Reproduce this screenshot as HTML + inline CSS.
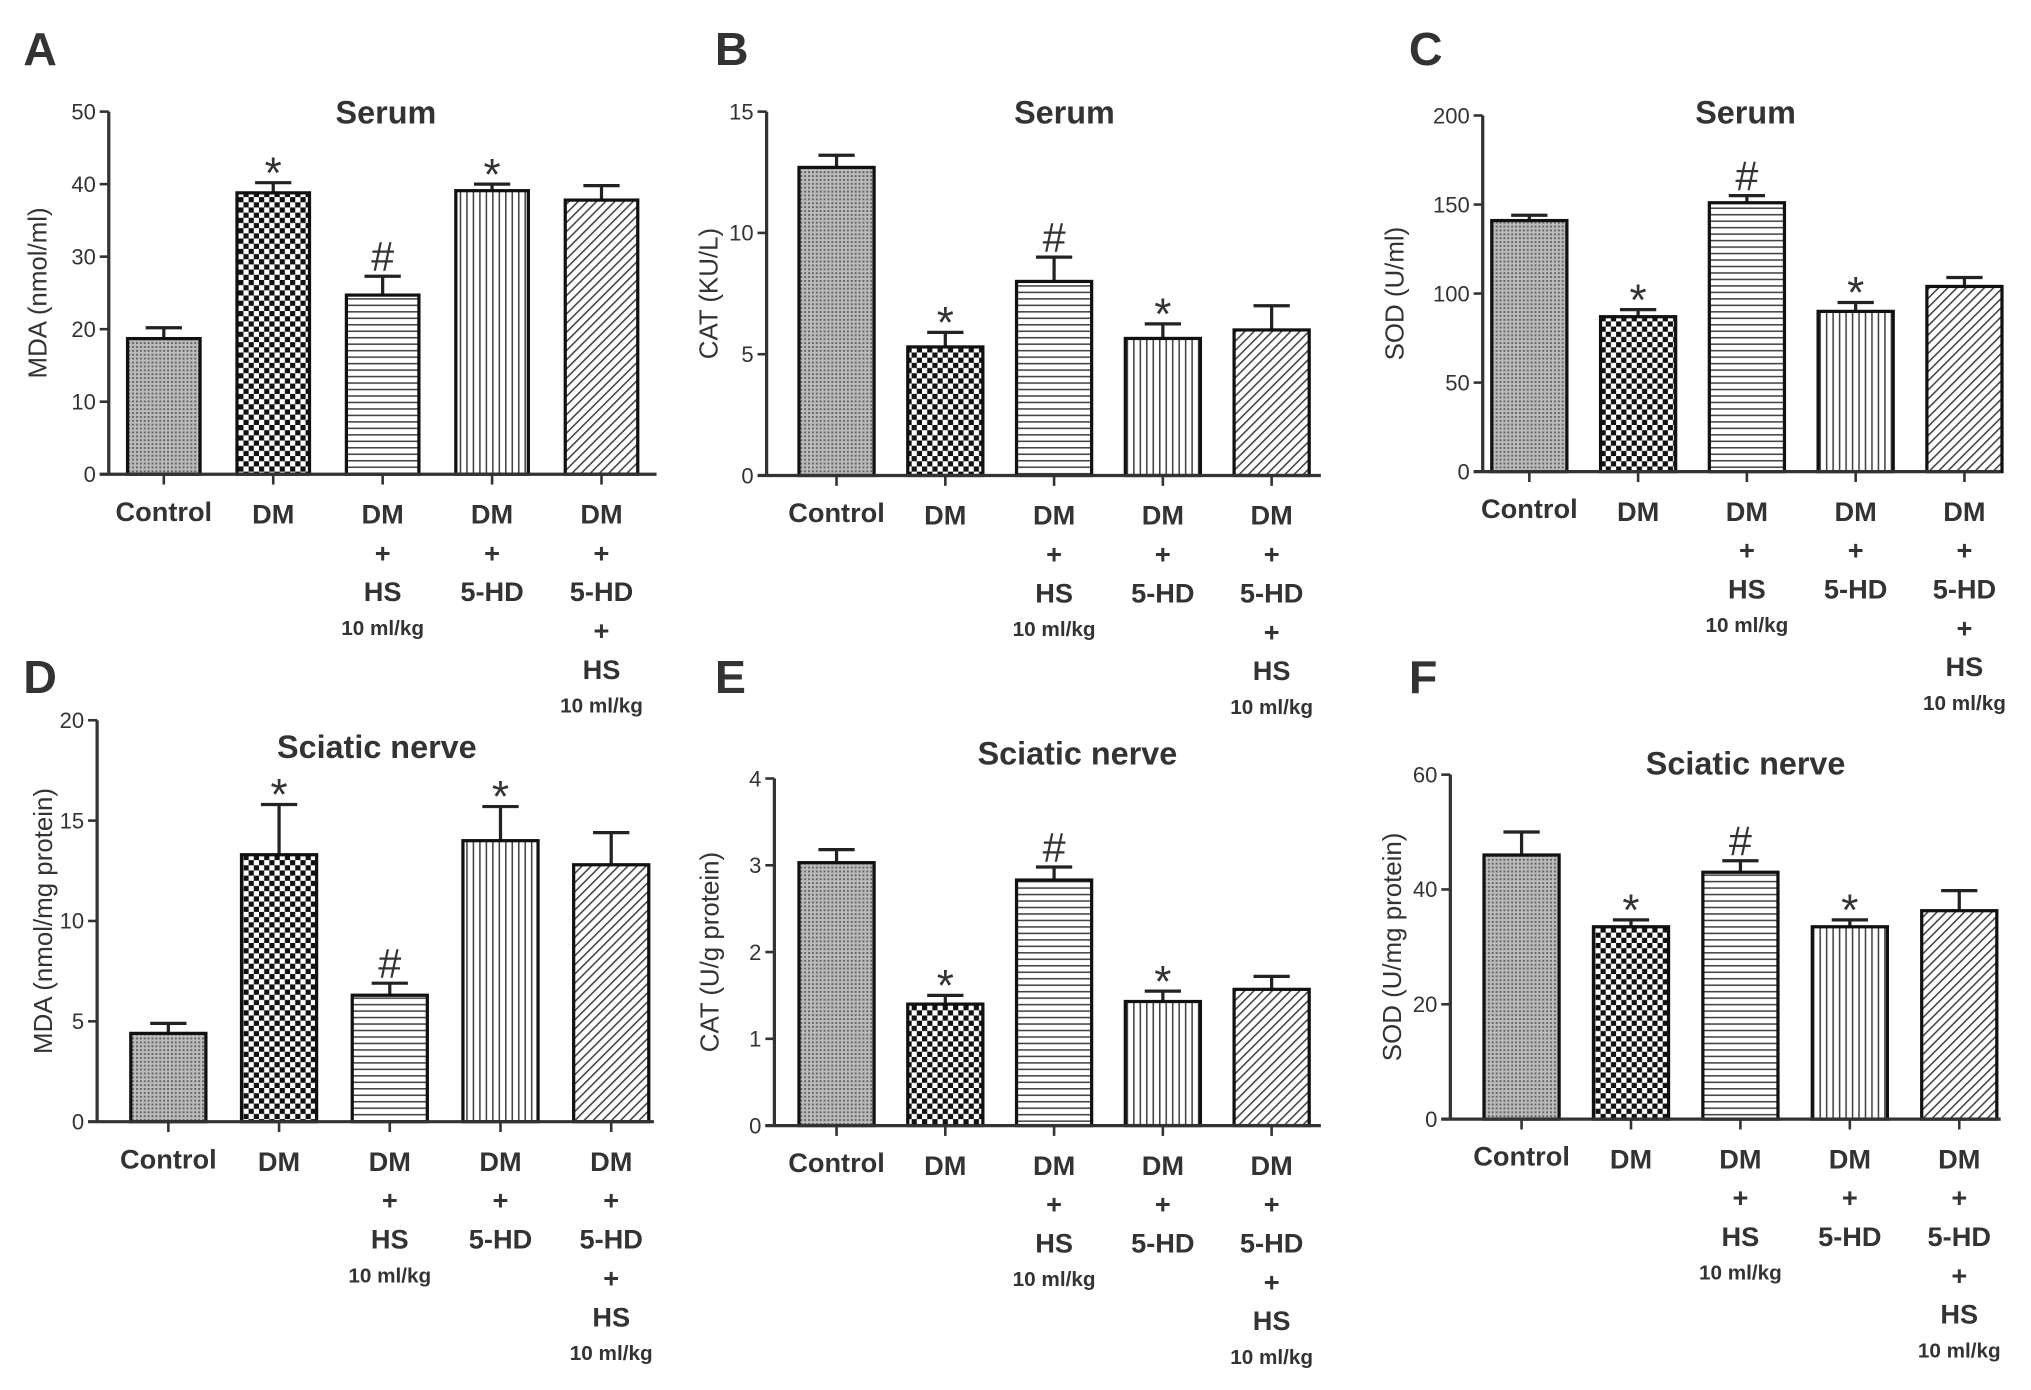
<!DOCTYPE html>
<html><head><meta charset="utf-8"><style>
html,body{margin:0;padding:0;background:#fff;}
svg{display:block;}
text{font-family:"Liberation Sans",sans-serif;fill:#333;}
</style></head><body>
<svg id="fig" width="2031" height="1390" viewBox="0 0 1568.4 1073" xmlns="http://www.w3.org/2000/svg">
<defs>
<pattern id="p0" width="3" height="3" patternUnits="userSpaceOnUse"><rect width="3" height="3" fill="#bbb"/><rect width="1.5" height="1.5" fill="#666"/></pattern>
<pattern id="p1" width="8" height="8" patternUnits="userSpaceOnUse"><rect width="8" height="8" fill="#fff"/><rect width="4" height="4" fill="#111"/><rect x="4" y="4" width="4" height="4" fill="#111"/></pattern>
<pattern id="p2" width="6" height="5" patternUnits="userSpaceOnUse"><rect width="6" height="5" fill="#fff"/><rect y="0" width="6" height="1.2" fill="#444"/></pattern>
<pattern id="p3" width="5" height="6" patternUnits="userSpaceOnUse"><rect width="5" height="6" fill="#fff"/><rect x="0" width="1.2" height="6" fill="#444"/></pattern>
<pattern id="p4" width="5" height="5" patternUnits="userSpaceOnUse" patternTransform="rotate(45)"><rect width="5" height="5" fill="#fff"/><rect width="1.2" height="5" fill="#444"/></pattern>
</defs>
</svg>
<script>
const categories=["Control","DM","DM+HS","DM+5-HD","DM+5-HD+HS"];
const valuesA=[18.7,38.8,24.7,39.1,37.8]; const errA=[1.5,1.4,2.6,0.9,2.0];
const valuesB=[12.7,5.3,8.0,5.65,6.0]; const errB=[0.5,0.6,1.0,0.6,1.0];
const valuesC=[141,87,151,90,104]; const errC=[3,4,4,5,5];
const valuesD=[4.4,13.3,6.3,14.0,12.8]; const errD=[0.5,2.5,0.6,1.7,1.6];
const valuesE=[3.03,1.4,2.83,1.43,1.57]; const errE=[0.15,0.1,0.15,0.12,0.15];
const valuesF=[46,33.5,43,33.5,36.3]; const errF=[4,1.2,2,1.2,3.5];
const marks=["","*","#","*",""];
const ticksA=[0,10,20,30,40,50],ticksB=[0,5,10,15],ticksC=[0,50,100,150,200],ticksD=[0,5,10,15,20],ticksE=[0,1,2,3,4],ticksF=[0,20,40,60];
const NS="http://www.w3.org/2000/svg";
const svg=document.getElementById('fig');
function mk(tag,attrs,parent,txt){const e=document.createElementNS(NS,tag);for(const k in attrs)e.setAttribute(k,attrs[k]);if(txt!==undefined)e.textContent=txt;(parent||svg).appendChild(e);return e;}
const panels=[
{id:"a",letter:"A",lx:18,ly:50,ax:84,y0:366,yt:86,xe:507,c0:126.5,sp:84.5,bw:56,vals:valuesA,errs:errA,ticks:ticksA,yl:"MDA (nmol/ml)",ylx:36,title:"Serum",tx:298,ty:95},
{id:"b",letter:"B",lx:552,ly:50,ax:592,y0:367,yt:86,xe:1020,c0:646,sp:84,bw:58,vals:valuesB,errs:errB,ticks:ticksB,yl:"CAT (KU/L)",ylx:554,title:"Serum",tx:822,ty:95},
{id:"c",letter:"C",lx:1088,ly:50,ax:1145,y0:364,yt:89,xe:1545,c0:1181,sp:84,bw:58,vals:valuesC,errs:errC,ticks:ticksC,yl:"SOD (U/ml)",ylx:1084,title:"Serum",tx:1348,ty:95},
{id:"d",letter:"D",lx:18,ly:535,ax:75,y0:866,yt:556,xe:505,c0:130,sp:85.5,bw:58,vals:valuesD,errs:errD,ticks:ticksD,yl:"MDA (nmol/mg protein)",ylx:40,title:"Sciatic nerve",tx:291,ty:585},
{id:"e",letter:"E",lx:552,ly:535,ax:598,y0:869,yt:601,xe:1020,c0:646,sp:84,bw:58,vals:valuesE,errs:errE,ticks:ticksE,yl:"CAT (U/g protein)",ylx:555,title:"Sciatic nerve",tx:832,ty:590},
{id:"f",letter:"F",lx:1088,ly:535,ax:1120,y0:864,yt:598,xe:1545,c0:1175,sp:84.5,bw:58,vals:valuesF,errs:errF,ticks:ticksF,yl:"SOD (U/mg protein)",ylx:1082,title:"Sciatic nerve",tx:1348,ty:598}
];
const labelLines=[["Control"],["DM"],["DM","+","HS","10 ml/kg"],["DM","+","5-HD"],["DM","+","5-HD","+","HS","10 ml/kg"]];
panels.forEach(p=>{
  const g=mk('g',{});
  
  
  const tmax=p.ticks[p.ticks.length-1];
  const ys=v=>p.y0-(v/tmax)*(p.y0-p.yt);
  const xs=i=>p.c0+i*p.sp;
  const L=mk('text',{x:p.lx,y:p.ly,'font-size':36,'font-weight':'bold',fill:'#111'},g,p.letter);
  
  const T=mk('text',{x:p.tx,y:p.ty,'font-size':25,'font-weight':'bold','text-anchor':'middle'},g,p.title);
  
  const ym=(p.y0+p.yt)/2;
  const YL=mk('text',{x:p.ylx,y:ym,'font-size':20,'text-anchor':'middle',transform:`rotate(-90 ${p.ylx} ${ym})`},g,p.yl);
  
  p.vals.forEach((v,i)=>{
    const x=xs(i), top=ys(v), et=ys(v+p.errs[i]);
    const el=mk('line',{x1:x,x2:x,y1:top,y2:et,stroke:'#222','stroke-width':2.5},g);
    
    const cap=mk('line',{x1:x-14,x2:x+14,y1:et,y2:et,stroke:'#222','stroke-width':2.5},g);
    
    const b=mk('rect',{x:x-p.bw/2,y:top,width:p.bw,height:p.y0-top,fill:`url(#p${i})`,stroke:'#111','stroke-width':2.5},g);
    
    
    if(marks[i]){
      const star=marks[i]=="*";
      const m=mk('text',{x:x,y:et-4+(star?8:0),'font-size':star?34:32,'text-anchor':'middle','font-family':'Liberation Serif'},g,marks[i]);
      
    }
    const tk=mk('line',{x1:x,x2:x,y1:p.y0,y2:p.y0+8,stroke:'#333','stroke-width':2},g);
    
    labelLines[i].forEach((s,j)=>{
      const small=s==="10 ml/kg";
      const by=p.y0+38+j*30-(small?4:0)-(i===0?2:0);
      const t=mk('text',{x:x,y:by,'font-size':small?16:21,'font-weight':'bold','text-anchor':'middle'},g,s);
      
    });
  });
  const ya=mk('line',{x1:p.ax,x2:p.ax,y1:p.yt,y2:p.y0,stroke:'#333','stroke-width':2.5},g);
  
  const xa=mk('line',{x1:p.ax-7,x2:p.xe,y1:p.y0,y2:p.y0,stroke:'#333','stroke-width':2.5},g);
  
  p.ticks.forEach(t=>{
    const y=ys(t);
    const l=mk('line',{x1:p.ax-7,x2:p.ax,y1:y,y2:y,stroke:'#333','stroke-width':2},g);
    
    const tx=mk('text',{x:p.ax-10,y:y+6,'font-size':17,'text-anchor':'end'},g,String(t));
    
  });
});
</script>
</body></html>
